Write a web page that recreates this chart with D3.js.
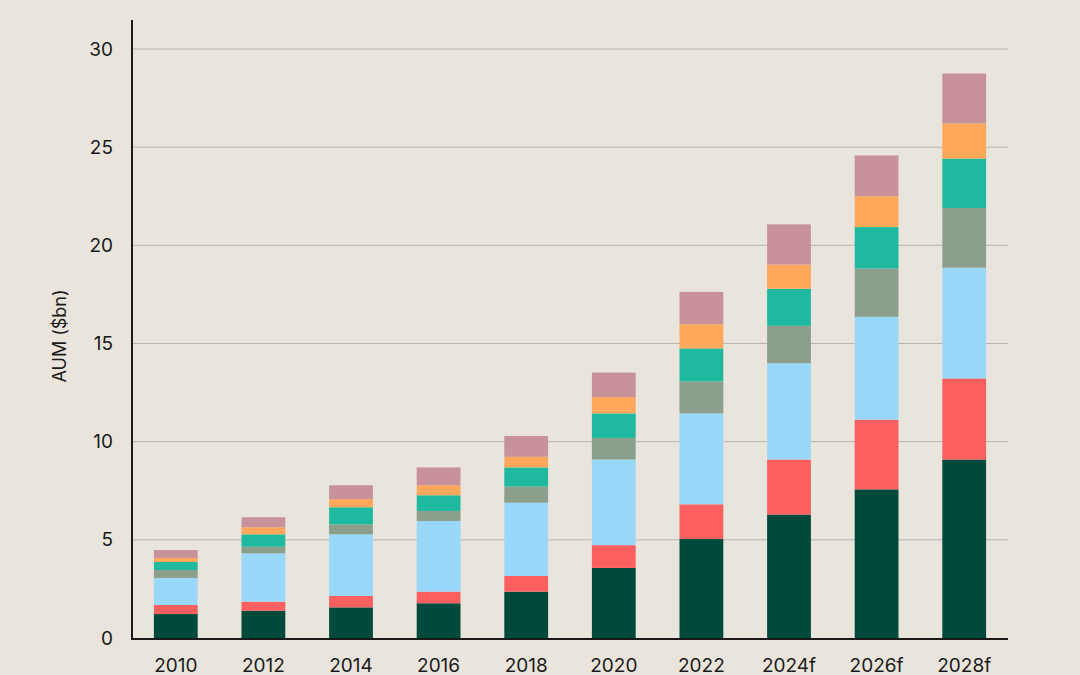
<!DOCTYPE html>
<html><head><meta charset="utf-8">
<script src="https://cdn.jsdelivr.net/npm/d3@7"></script>
<style>body{margin:0;background:#e9e5dd;}svg{display:block;font-family:Inter,"Noto Sans",sans-serif;}</style>
</head><body><svg id="c" width="1080" height="675"></svg>
<script>
const categories=["2010","2012","2014","2016","2018","2020","2022","2024f","2026f","2028f"];
const seriesNames=["S1","S2","S3","S4","S5","S6","S7"];
const s1=[1.22,1.39,1.56,1.77,2.36,3.57,5.04,6.29,7.57,9.09];
const s2=[0.46,0.46,0.58,0.59,0.80,1.16,1.77,2.80,3.55,4.13];
const s3=[1.38,2.46,3.14,3.60,3.73,4.36,4.63,4.91,5.24,5.64];
const s4=[0.40,0.34,0.51,0.51,0.82,1.10,1.63,1.90,2.46,3.04];
const s5=[0.41,0.63,0.87,0.80,0.98,1.25,1.68,1.89,2.11,2.52];
const s6=[0.21,0.36,0.41,0.51,0.54,0.83,1.23,1.23,1.57,1.79];
const s7=[0.40,0.51,0.71,0.91,1.06,1.25,1.65,2.05,2.08,2.54];
const yTicks=[0,5,10,15,20,25,30];
const colors=["#004a3c","#fb5f5f","#9ad8fb","#8c9f8c","#1fb9a0","#ffa75a","#c8929b"];
const allSeries=[s1,s2,s3,s4,s5,s6,s7];
const rows=categories.map((c,i)=>{const o={cat:c};seriesNames.forEach((n,j)=>o[n]=allSeries[j][i]);return o;});
const svg=d3.select("#c");
const x=d3.scaleBand().domain(categories).range([132,1008]).paddingInner(0.5).paddingOuter(0.25);
const y=d3.scaleLinear().domain([0,30]).range([638,49]);
svg.append("g").selectAll("line").data(yTicks.filter(t=>t>0)).join("line")
 .attr("x1",132).attr("x2",1008).attr("y1",d=>y(d)).attr("y2",d=>y(d))
 .attr("stroke","#b9b5ad").attr("stroke-width",1);
const stack=d3.stack().keys(seriesNames)(rows);
svg.append("g").selectAll("g").data(stack).join("g").attr("fill",(d,i)=>colors[i])
 .selectAll("rect").data(d=>d).join("rect")
 .attr("x",d=>x(d.data.cat)).attr("width",x.bandwidth())
 .attr("y",d=>y(d[1])).attr("height",d=>y(d[0])-y(d[1]));
svg.append("g").selectAll("text").data(yTicks).join("text")
 .attr("x",113).attr("y",d=>y(d)).attr("dy","0.35em").attr("text-anchor","end")
 .attr("font-size",19).attr("fill","#1a1a1a").text(d=>d);
svg.append("g").selectAll("text").data(categories).join("text")
 .attr("x",d=>x(d)+x.bandwidth()/2).attr("y",672).attr("text-anchor","middle")
 .attr("font-size",19).attr("fill","#1a1a1a").text(d=>d);
svg.append("line").attr("x1",132).attr("x2",132).attr("y1",20).attr("y2",639).attr("stroke","#1a1a1a").attr("stroke-width",2);
svg.append("line").attr("x1",131).attr("x2",1008).attr("y1",639).attr("y2",639).attr("stroke","#1a1a1a").attr("stroke-width",2);
svg.append("text").attr("transform","translate(66,336) rotate(-90)").attr("text-anchor","middle")
 .attr("font-size",18).attr("fill","#1a1a1a").text("AUM ($bn)");
</script></body></html>
